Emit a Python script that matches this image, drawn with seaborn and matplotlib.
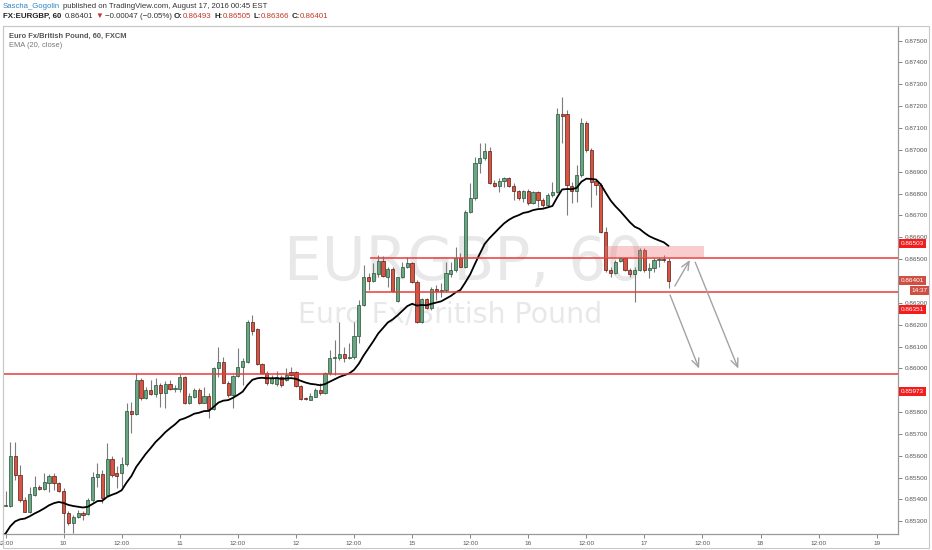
import numpy as np
import pandas as pd
import seaborn as sns
import matplotlib.pyplot as plt
import matplotlib.patches as mpatches

# EURGBP hourly candles, Aug 9 12:00 -> Aug 17 (FXCM)
opens = [0.85372, 0.85370, 0.85599, 0.85512, 0.85398, 0.85344, 0.85421, 0.85459, 0.85450, 0.85477,
         0.85509, 0.85474, 0.85441, 0.85340, 0.85291, 0.85322, 0.85337, 0.85334, 0.85398, 0.85505,
         0.85515, 0.85421, 0.85584, 0.85520, 0.85520, 0.85561, 0.85805, 0.85790, 0.85947, 0.85863,
         0.85901, 0.85883, 0.85924, 0.85886, 0.85929, 0.85904, 0.85904, 0.85959, 0.85840, 0.85871,
         0.85901, 0.85843, 0.85874, 0.85813, 0.86001, 0.86031, 0.85935, 0.85879, 0.85965, 0.86005,
         0.86031, 0.86214, 0.86179, 0.86020, 0.85981, 0.85932, 0.85929, 0.85959, 0.85947, 0.85982,
         0.85985, 0.85920, 0.85866, 0.85856, 0.85871, 0.85901, 0.85886, 0.85978, 0.86046, 0.86046,
         0.86066, 0.86049, 0.86051, 0.86146, 0.86290, 0.86420, 0.86402, 0.86432, 0.86492, 0.86420,
         0.86454, 0.86310, 0.86417, 0.86463, 0.86484, 0.86397, 0.86211, 0.86316, 0.86275, 0.86363,
         0.86354, 0.86359, 0.86432, 0.86450, 0.86507, 0.86463, 0.86718, 0.86779, 0.86939, 0.86962,
         0.86995, 0.86847, 0.86835, 0.86858, 0.86870, 0.86837, 0.86812, 0.86782, 0.86812, 0.86756,
         0.86806, 0.86771, 0.86748, 0.86792, 0.86806, 0.87163, 0.87163, 0.86835, 0.86812, 0.86885,
         0.87122, 0.87000, 0.86858, 0.86840, 0.86623, 0.86451, 0.86435, 0.86492, 0.86504, 0.86451,
         0.86431, 0.86451, 0.86542, 0.86451, 0.86461, 0.86496, 0.86499, 0.86493]
highs = [0.85441, 0.85665, 0.85665, 0.85558, 0.85413, 0.85459, 0.85508, 0.85467, 0.85520, 0.85515,
         0.85520, 0.85482, 0.85451, 0.85345, 0.85329, 0.85352, 0.85345, 0.85406, 0.85528, 0.85566,
         0.85535, 0.85660, 0.85599, 0.85551, 0.85596, 0.85840, 0.85848, 0.85978, 0.85955, 0.85917,
         0.85947, 0.85955, 0.85932, 0.85940, 0.85947, 0.85924, 0.85975, 0.85965, 0.85886, 0.85909,
         0.85909, 0.85914, 0.85886, 0.86008, 0.86100, 0.86054, 0.85940, 0.85970, 0.86092, 0.86046,
         0.86222, 0.86245, 0.86184, 0.86023, 0.85990, 0.85970, 0.85990, 0.85970, 0.86001, 0.86008,
         0.85990, 0.85924, 0.85871, 0.85886, 0.85909, 0.85932, 0.85985, 0.86084, 0.86130, 0.86214,
         0.86100, 0.86114, 0.86214, 0.86313, 0.86473, 0.86435, 0.86484, 0.86519, 0.86515, 0.86466,
         0.86463, 0.86420, 0.86489, 0.86511, 0.86489, 0.86405, 0.86321, 0.86321, 0.86374, 0.86382,
         0.86389, 0.86489, 0.86489, 0.86554, 0.86527, 0.86725, 0.86847, 0.86969, 0.87030, 0.87030,
         0.87015, 0.86862, 0.86870, 0.86878, 0.86878, 0.86847, 0.86817, 0.86817, 0.86821, 0.86812,
         0.86812, 0.86779, 0.86801, 0.86855, 0.87190, 0.87244, 0.87183, 0.86855, 0.86931, 0.87145,
         0.87130, 0.87007, 0.86862, 0.86847, 0.86649, 0.86466, 0.86496, 0.86512, 0.86512, 0.86458,
         0.86466, 0.86553, 0.86550, 0.86481, 0.86504, 0.86512, 0.86519, 0.86505]
lows = [0.85368, 0.85367, 0.85489, 0.85390, 0.85344, 0.85337, 0.85416, 0.85444, 0.85444, 0.85436,
        0.85444, 0.85436, 0.85245, 0.85284, 0.85245, 0.85314, 0.85306, 0.85329, 0.85390, 0.85459,
        0.85386, 0.85416, 0.85505, 0.85451, 0.85459, 0.85551, 0.85703, 0.85787, 0.85856, 0.85859,
        0.85879, 0.85871, 0.85825, 0.85818, 0.85901, 0.85894, 0.85894, 0.85837, 0.85837, 0.85863,
        0.85837, 0.85840, 0.85772, 0.85810, 0.85962, 0.85932, 0.85871, 0.85817, 0.85959, 0.85924,
        0.86026, 0.86153, 0.86016, 0.85975, 0.85924, 0.85927, 0.85920, 0.85913, 0.85940, 0.85965,
        0.85914, 0.85856, 0.85856, 0.85853, 0.85868, 0.85879, 0.85881, 0.85970, 0.85970, 0.86039,
        0.86031, 0.86041, 0.86041, 0.86115, 0.86286, 0.86359, 0.86397, 0.86420, 0.86417, 0.86374,
        0.86351, 0.86305, 0.86412, 0.86458, 0.86392, 0.86209, 0.86206, 0.86270, 0.86267, 0.86313,
        0.86328, 0.86351, 0.86420, 0.86443, 0.86463, 0.86458, 0.86713, 0.86771, 0.86893, 0.86954,
        0.86844, 0.86832, 0.86809, 0.86832, 0.86832, 0.86771, 0.86771, 0.86763, 0.86748, 0.86751,
        0.86740, 0.86740, 0.86740, 0.86786, 0.86801, 0.87030, 0.86702, 0.86756, 0.86763, 0.86878,
        0.86992, 0.86740, 0.86794, 0.86618, 0.86443, 0.86420, 0.86431, 0.86489, 0.86446, 0.86420,
        0.86306, 0.86446, 0.86443, 0.86412, 0.86443, 0.86466, 0.86489, 0.86366]
closes = [0.85374, 0.85599, 0.85512, 0.85398, 0.85344, 0.85424, 0.85456, 0.85450, 0.85479, 0.85509,
          0.85474, 0.85441, 0.85340, 0.85291, 0.85322, 0.85337, 0.85329, 0.85398, 0.85505, 0.85515,
          0.85406, 0.85584, 0.85512, 0.85508, 0.85561, 0.85807, 0.85790, 0.85947, 0.85863, 0.85901,
          0.85883, 0.85924, 0.85886, 0.85929, 0.85904, 0.85906, 0.85962, 0.85840, 0.85874, 0.85901,
          0.85840, 0.85874, 0.85813, 0.86001, 0.86031, 0.85935, 0.85879, 0.85965, 0.86005, 0.86034,
          0.86214, 0.86173, 0.86020, 0.85981, 0.85932, 0.85955, 0.85959, 0.85924, 0.85970, 0.85970,
          0.85920, 0.85859, 0.85859, 0.85874, 0.85901, 0.85886, 0.85978, 0.86046, 0.86051, 0.86066,
          0.86046, 0.86051, 0.86146, 0.86290, 0.86420, 0.86402, 0.86435, 0.86492, 0.86423, 0.86454,
          0.86356, 0.86417, 0.86466, 0.86484, 0.86397, 0.86211, 0.86316, 0.86275, 0.86362, 0.86354,
          0.86359, 0.86435, 0.86450, 0.86504, 0.86466, 0.86718, 0.86779, 0.86939, 0.86965, 0.86995,
          0.86847, 0.86835, 0.86858, 0.86870, 0.86837, 0.86812, 0.86782, 0.86812, 0.86756, 0.86806,
          0.86771, 0.86748, 0.86794, 0.86806, 0.87163, 0.87157, 0.86840, 0.86812, 0.86885, 0.87122,
          0.87000, 0.86855, 0.86840, 0.86623, 0.86451, 0.86435, 0.86489, 0.86504, 0.86451, 0.86431,
          0.86451, 0.86542, 0.86451, 0.86461, 0.86496, 0.86499, 0.86496, 0.86401]
ema_seed = 0.8523  # EMA value just before the first visible bar

# time axis labels (bar index -> label)
tick_bars = [0, 12, 24, 36, 48, 60, 72, 84, 96, 108, 120, 132, 144, 156, 168, 180]
tick_labels = ["12:00", "10", "12:00", "11", "12:00", "12", "12:00", "15",
               "12:00", "16", "12:00", "17", "12:00", "18", "12:00", "19"]
price_ticks = [0.853, 0.854, 0.855, 0.856, 0.857, 0.858, 0.859, 0.860, 0.861, 0.862, 0.863,
               0.864, 0.865, 0.866, 0.867, 0.868, 0.869, 0.870, 0.871, 0.872, 0.873, 0.874, 0.875]
hidden_ticks = [0.859, 0.864]  # covered by the price labels in the original

# drawings
level_values = [0.86503, 0.86351, 0.85973]
level_start_bars = [75.3, 74.5, -2]
zone_bars = [123.9, 144.3]
zone_prices = [0.86505, 0.86560]
arrow_starts = [(138.3, 0.86377), (137.3, 0.86336), (142.5, 0.86486)]
arrow_ends = [(141.4, 0.86496), (143.3, 0.85999), (151.4, 0.85999)]
last_price = 0.86401

W, H = 932, 550
df = pd.DataFrame({"bar": np.arange(len(closes)), "open": opens, "high": highs,
                   "low": lows, "close": closes})
df["up"] = df["close"] >= df["open"]

ema_src = pd.Series([ema_seed] + closes)
ema_df = pd.DataFrame({"bar": np.arange(-1, len(closes)),
                       "ema": ema_src.ewm(span=20, adjust=False).mean().values})

sns.set_theme(style="white")
plt.rcParams["font.family"] = ["Liberation Sans", "DejaVu Sans"]

fig = plt.figure(figsize=(W / 100, H / 100), dpi=100)
ax = fig.add_axes([3 / W, 16 / H, 895 / W, 508 / H])
xmin, xmax = -0.52, 184.4
ax.set_xlim(xmin, xmax)
ax.set_ylim(0.85242, 0.87567)

# watermark
ax.text(0.515, 0.5, "EURGBP, 60", transform=ax.transAxes, ha="center", va="baseline",
        fontsize=43, color="#e8e8e8", family="DejaVu Sans", zorder=0)
ax.text(0.5, 0.417, "Euro Fx/British Pound", transform=ax.transAxes, ha="center",
        va="baseline", fontsize=20.5, color="#e8e8e8", family="DejaVu Sans", zorder=0)

# candles
up_c, dn_c = "#6ba583", "#d75442"
ax.vlines(df["bar"], df["low"], df["high"], color="#7b7b7d", lw=0.8, zorder=2)
body_lo = df[["open", "close"]].min(axis=1)
body_h = (df["close"] - df["open"]).abs().clip(lower=0.00004)
ax.bar(df["bar"], body_h, bottom=body_lo, width=0.66,
       color=np.where(df["up"], up_c, dn_c),
       edgecolor=np.where(df["up"], "#225437", "#5b1a13"), linewidth=0.5, zorder=3)

sns.lineplot(data=ema_df, x="bar", y="ema", color="black", lw=1.3, ax=ax, zorder=4)

# horizontal levels
line_red = "#e83a3a"
for v, s in zip(level_values, level_start_bars):
    ax.hlines(v, s, xmax, color=line_red, lw=1.1, zorder=5)

ax.add_patch(mpatches.Rectangle((zone_bars[0], zone_prices[0]), zone_bars[1] - zone_bars[0],
                                zone_prices[1] - zone_prices[0], facecolor="#f07070",
                                alpha=0.35, edgecolor="none", zorder=6))
for s, e in zip(arrow_starts, arrow_ends):
    ax.annotate("", xy=e, xytext=s,
                arrowprops=dict(arrowstyle="->,head_length=0.5,head_width=0.22",
                                color="#a3a3a3", lw=1.0, shrinkA=0, shrinkB=0), zorder=6)

# axes styling
ax.set_xlabel("")
ax.set_ylabel("")
ax.set_xticks(tick_bars)
ax.set_xticklabels(tick_labels)
ax.yaxis.tick_right()
ax.set_yticks(price_ticks)
ax.set_yticklabels(["" if v in hidden_ticks else f"{v:.5f}" for v in price_ticks])
ax.tick_params(axis="both", labelsize=4.6, colors="#555555", length=3, width=0.5,
               direction="out", pad=1.5)
ax.tick_params(axis="y", pad=2)
ax.tick_params(axis="x", bottom=True, pad=2)
for side in ["top", "left"]:
    ax.spines[side].set_color("#d0d0d0")
    ax.spines[side].set_linewidth(0.8)
for side in ["bottom", "right"]:
    ax.spines[side].set_color("#9a9a9a")
    ax.spines[side].set_linewidth(0.9)

# price labels on the right scale
def price_box(value, text, color, dy=0.0):
    ax.annotate(text, xy=(1, value), xycoords=("axes fraction", "data"),
                xytext=(2, dy), textcoords="offset points", ha="left", va="center",
                fontsize=4.6, color="white", annotation_clip=False, zorder=8,
                bbox=dict(boxstyle="square,pad=0.3", facecolor=color, edgecolor="none"))

box_red = "#f21d1d"
price_box(level_values[0], f"{level_values[0]:.5f}", box_red, dy=10.6)
price_box(last_price, f"{last_price:.5f}", "#cf4f43", dy=0)
ax.annotate("14:37", xy=(1, last_price), xycoords=("axes fraction", "data"),
            xytext=(21.5, -7), textcoords="offset points", ha="right", va="center",
            fontsize=4.6, color="white", annotation_clip=False, zorder=8,
            bbox=dict(boxstyle="square,pad=0.3", facecolor="#cf4f43", edgecolor="none"))
price_box(level_values[1], f"{level_values[1]:.5f}", box_red, dy=-12.7)
price_box(level_values[2], f"{level_values[2]:.5f}", box_red, dy=-12.5)

# outer frame
fig.patches.append(mpatches.Rectangle((3 / W, 2 / H), 926 / W, 522 / H, transform=fig.transFigure,
                                      fill=False, edgecolor="#c8c8c8", lw=0.8))

# header lines, drawn piece by piece
renderer = fig.canvas.get_renderer()

def draw_pieces(pieces, x_px, y_px, size):
    x = x_px
    for txt, color, weight, gap in pieces:
        t = fig.text(x / W, 1 - y_px / H, txt, color=color, fontsize=size, fontweight=weight,
                     ha="left", va="center")
        x += t.get_window_extent(renderer=renderer).width + gap

red_txt = "#c0392b"
draw_pieces([("Sascha_Gogolin", "#2d86c4", "normal", 2.5),
             ("published on TradingView.com, August 17, 2016 00:45 EST", "#333333", "normal", 0)],
            3, 6.5, 5.6)
draw_pieces([("FX:EURGBP, 60", "#222222", "bold", 3),
             ("0.86401", "#333333", "normal", 2.5),
             ("▼", red_txt, "normal", 1.5),
             ("−0.00047 (−0.05%)", "#333333", "normal", 2.5),
             ("O:", "#222222", "bold", 0), ("0.86493", red_txt, "normal", 2.5),
             ("H:", "#222222", "bold", 0), ("0.86505", red_txt, "normal", 2.5),
             ("L:", "#222222", "bold", 0), ("0.86366", red_txt, "normal", 2.5),
             ("C:", "#222222", "bold", 0), ("0.86401", red_txt, "normal", 0)],
            3, 16.5, 5.65)

ax.text(6 / 895, 1 - 10 / 508, "Euro Fx/British Pound, 60, FXCM", transform=ax.transAxes,
        ha="left", va="center", fontsize=5.4, fontweight="bold", color="#555555")
ax.text(6 / 895, 1 - 19.5 / 508, "EMA (20, close)", transform=ax.transAxes,
        ha="left", va="center", fontsize=5.4, color="#777777")

fig.savefig("out.png", dpi=100)
